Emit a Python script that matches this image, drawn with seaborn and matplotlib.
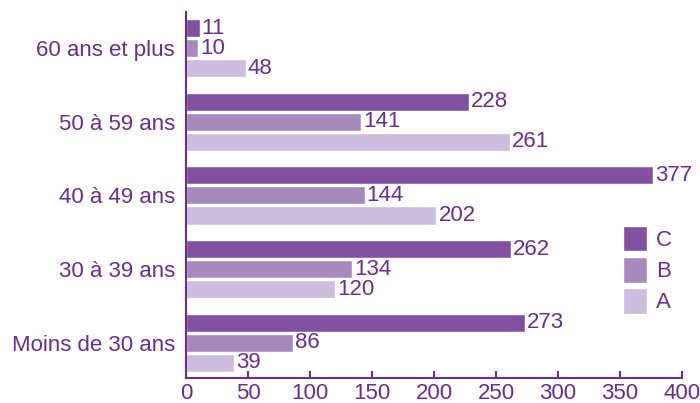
import matplotlib
matplotlib.use("Agg")
import matplotlib.pyplot as plt
import seaborn as sns
import pandas as pd

categories = ["60 ans et plus", "50 à 59 ans", "40 à 49 ans", "30 à 39 ans", "Moins de 30 ans"]
series_C = [11, 228, 377, 262, 273]
series_B = [10, 141, 144, 134, 86]
series_A = [48, 261, 202, 120, 39]
series_names = ["C", "B", "A"]
xticks = [0, 50, 100, 150, 200, 250, 300, 350, 400]

colors = {"C": "#8150a0", "B": "#a689bd", "A": "#cdbddf"}
txt = "#6b2d90"
fs = 16

rows = []
for name, vals in zip(series_names, [series_C, series_B, series_A]):
    for c, v in zip(categories, vals):
        rows.append({"cat": c, "serie": name, "val": v})
df = pd.DataFrame(rows)

sns.set_style("white")
plt.rcParams["font.family"] = ["Liberation Sans", "DejaVu Sans"]

fig = plt.figure(figsize=(7.0, 4.03), dpi=100)
ax = fig.add_axes([186 / 700, 1 - 377.5 / 403, (682 - 186) / 700, (377.5 - 12) / 403])

sns.barplot(data=df, y="cat", x="val", hue="serie", order=categories,
            hue_order=series_names, palette=colors, orient="h",
            width=0.815, gap=0.1, errorbar=None, saturation=1, ax=ax, legend=True)

for cont in ax.containers:
    ax.bar_label(cont, padding=1.5, color=txt, fontsize=fs)

ax.set_xlim(0, 400)
ax.set_ylim(4.47, -0.49)
ax.set_xticks(xticks)
ax.set_xticklabels([str(t) for t in xticks])
ax.set_xlabel("")
ax.set_ylabel("")
for s in ["top", "right"]:
    ax.spines[s].set_visible(False)
for s in ["left", "bottom"]:
    ax.spines[s].set_color(txt)
    ax.spines[s].set_linewidth(1.5)
ax.tick_params(axis="x", colors=txt, labelsize=fs, length=5, width=1.5, direction="in", bottom=True, pad=4)
ax.tick_params(axis="y", colors=txt, labelsize=fs, length=0, pad=8)

handles, labels = ax.get_legend_handles_labels()
leg = ax.legend(handles, labels, loc="upper left", bbox_to_anchor=(0.84, 0.47),
                frameon=False, fontsize=fs, handlelength=1.1, handleheight=1.4,
                labelspacing=0.25, handletextpad=0.4, title=None)
for t in leg.get_texts():
    t.set_color(txt)

fig.savefig("out.png", dpi=100)
